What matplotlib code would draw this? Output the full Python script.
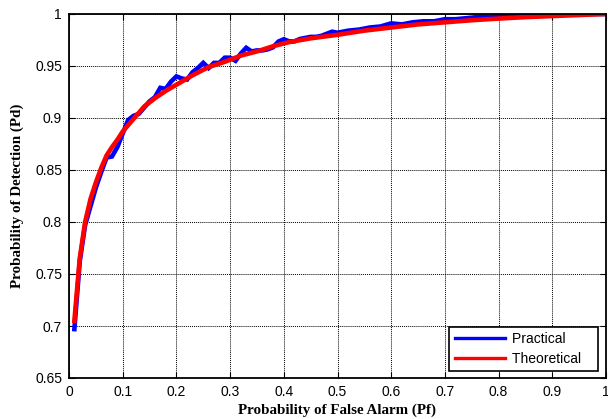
import matplotlib
matplotlib.use("Agg")
import matplotlib.pyplot as plt
from matplotlib.ticker import FuncFormatter

# ROC data: probability of false alarm vs probability of detection
pf_theory = [0.01, 0.02, 0.03, 0.04, 0.05, 0.06, 0.07, 0.08, 0.09, 0.10,
             0.12, 0.14, 0.16, 0.18, 0.20, 0.23, 0.26, 0.29, 0.32, 0.35,
             0.38, 0.41, 0.45, 0.50, 0.55, 0.60, 0.65, 0.70, 0.75, 0.80,
             0.85, 0.90, 0.95, 1.00]
pd_theory = [0.705, 0.765, 0.800, 0.822, 0.838, 0.852, 0.864, 0.872, 0.879, 0.887,
             0.899, 0.911, 0.919, 0.926, 0.932, 0.941, 0.949, 0.954, 0.960, 0.964,
             0.969, 0.973, 0.9766, 0.980, 0.984, 0.987, 0.990, 0.992, 0.994, 0.9956,
             0.997, 0.998, 0.999, 1.000]

pf_practical = [0.01, 0.02, 0.03, 0.04, 0.05, 0.06, 0.07, 0.08, 0.09, 0.10,
                0.11, 0.12, 0.13, 0.14, 0.15, 0.16, 0.17, 0.18, 0.19, 0.20,
                0.21, 0.22, 0.23, 0.24, 0.25, 0.26, 0.27, 0.28, 0.29, 0.30,
                0.31, 0.32, 0.33, 0.34, 0.35, 0.36, 0.37, 0.38, 0.39, 0.40,
                0.41, 0.42, 0.43, 0.44, 0.45, 0.46, 0.47, 0.48, 0.49, 0.50,
                0.52, 0.54, 0.56, 0.58, 0.60, 0.62, 0.64, 0.66, 0.68, 0.70,
                0.72, 0.74, 0.76, 0.78, 0.80, 0.82, 0.85, 0.90, 1.00]
pd_practical = [0.697, 0.762, 0.797, 0.815, 0.833, 0.848, 0.862, 0.863, 0.872, 0.885,
                0.898, 0.902, 0.904, 0.910, 0.916, 0.920, 0.929, 0.928, 0.935, 0.940,
                0.938, 0.937, 0.944, 0.948, 0.953, 0.948, 0.953, 0.953, 0.958, 0.958,
                0.955, 0.962, 0.9675, 0.964, 0.965, 0.965, 0.966, 0.968, 0.9735, 0.9757,
                0.9737, 0.9737, 0.976, 0.977, 0.978, 0.978, 0.979, 0.981, 0.983, 0.982,
                0.984, 0.985, 0.987, 0.988, 0.991, 0.990, 0.992, 0.993, 0.993, 0.995,
                0.995, 0.996, 0.997, 0.997, 0.998, 0.999, 1.000, 1.000, 1.000]

xticks = [0, 0.1, 0.2, 0.3, 0.4, 0.5, 0.6, 0.7, 0.8, 0.9, 1.0]
yticks = [0.65, 0.7, 0.75, 0.8, 0.85, 0.9, 0.95, 1.0]

plt.rcParams["font.family"] = ["Liberation Sans", "DejaVu Sans"]

fig = plt.figure(figsize=(6.08, 4.19), dpi=100)
ax = fig.add_axes([69 / 608, 41 / 419, 537 / 608, 364 / 419])

ax.plot(pf_practical, pd_practical, color="#0000ff", lw=3.3, label="Practical",
        solid_joinstyle="miter")
ax.plot(pf_theory, pd_theory, color="#ff0000", lw=3.3, label="Theoretical")

ax.set_xlim(0, 1)
ax.set_ylim(0.65, 1)
ax.set_xticks(xticks)
ax.set_yticks(yticks)
fmt = FuncFormatter(lambda v, p: "%g" % round(v, 2))
ax.xaxis.set_major_formatter(fmt)
ax.yaxis.set_major_formatter(fmt)
ax.tick_params(direction="in", length=4, width=0.8, labelsize=10,
               top=True, right=True, pad=5)
ax.grid(True, color="black", linestyle=(0, (1, 1)), linewidth=0.7)
for s in ax.spines.values():
    s.set_linewidth(1.3)

serif = ["Liberation Serif", "DejaVu Serif"]
ax.set_xlabel("Probability of False Alarm (Pf)", family=serif,
              fontweight="bold", fontsize=10.8, labelpad=3)
ax.set_ylabel("Probability of Detection (Pd)", family=serif,
              fontweight="bold", fontsize=10.8, labelpad=8)

leg = ax.legend(loc="lower right", bbox_to_anchor=(0.985, 0.018),
                fontsize=10, fancybox=False, framealpha=1,
                edgecolor="black", handlelength=3.6, handletextpad=0.5,
                borderaxespad=0.0, labelspacing=0.4, borderpad=0.4,
                columnspacing=0)
leg.get_frame().set_linewidth(1.2)
for h in leg.get_lines():
    h.set_linewidth(2.4)
# wider right margin inside the legend box
for t in leg.get_texts():
    t.set_text(t.get_text() + "   ")

fig.savefig("out.png", dpi=100)
